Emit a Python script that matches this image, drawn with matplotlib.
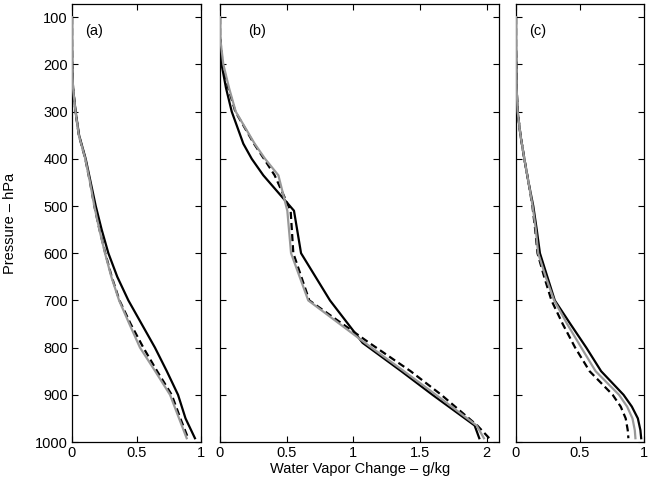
import matplotlib
matplotlib.use("Agg")
import matplotlib.pyplot as plt

plt.rcParams['font.family'] = ['Liberation Sans', 'DejaVu Sans']
plt.rcParams['font.size'] = 10

# ---- data ----
p_a = [100, 150, 200, 250, 300, 350, 400, 450, 500, 550, 600, 650, 700, 750, 800, 850, 900, 950, 992]
a_black = [0, 0, 0.001, 0.008, 0.028, 0.055, 0.106, 0.145, 0.184, 0.23, 0.282, 0.351, 0.437, 0.54, 0.643, 0.735, 0.822, 0.88, 0.953]
a_gray = [0, 0, 0.001, 0.008, 0.027, 0.053, 0.103, 0.14, 0.173, 0.212, 0.256, 0.305, 0.365, 0.445, 0.527, 0.645, 0.76, 0.83, 0.889]
a_dash = [0, 0, 0.001, 0.008, 0.027, 0.053, 0.103, 0.14, 0.173, 0.213, 0.258, 0.308, 0.368, 0.455, 0.553, 0.66, 0.773, 0.84, 0.90]

p_b = [100, 140, 200, 250, 300, 368, 400, 435, 510, 600, 700, 790, 850, 900, 965, 992]
b_black = [0, 0, 0.012, 0.045, 0.088, 0.175, 0.238, 0.325, 0.555, 0.608, 0.825, 1.07, 1.36, 1.594, 1.91, 1.945]
b_gray = [0, 0, 0.025, 0.068, 0.118, 0.26, 0.338, 0.438, 0.505, 0.533, 0.662, 1.088, 1.38, 1.62, 1.925, 1.98]
b_dash = [0, 0, 0.02, 0.062, 0.115, 0.255, 0.33, 0.41, 0.53, 0.55, 0.67, 1.12, 1.43, 1.66, 1.93, 2.02]

p_c = [100, 160, 200, 250, 300, 350, 400, 450, 500, 550, 600, 650, 700, 750, 800, 850, 900, 925, 950, 975, 992]
c_black = [0, 0, 0.002, 0.005, 0.013, 0.035, 0.065, 0.098, 0.135, 0.162, 0.187, 0.245, 0.303, 0.425, 0.549, 0.665, 0.84, 0.905, 0.952, 0.972, 0.978]
c_gray = [0, 0, 0.002, 0.005, 0.013, 0.035, 0.065, 0.098, 0.13, 0.155, 0.173, 0.232, 0.298, 0.4, 0.51, 0.622, 0.805, 0.868, 0.91, 0.928, 0.933]
c_dash = [0, 0, 0.002, 0.005, 0.013, 0.035, 0.065, 0.098, 0.128, 0.15, 0.168, 0.22, 0.277, 0.365, 0.462, 0.575, 0.755, 0.818, 0.857, 0.873, 0.878]

yticks = [100, 200, 300, 400, 500, 600, 700, 800, 900, 1000]
xt_small = [0, 0.5, 1]
xt_small_lab = ['0', '0.5', '1']
xt_big = [0, 0.5, 1, 1.5, 2]
xt_big_lab = ['0', '0.5', '1', '1.5', '2']

W, H = 649, 488
fig = plt.figure(figsize=(W / 100, H / 100), dpi=100)

def box(l, r, t=4, b=442):
    return [l / W, 1 - b / H, (r - l) / W, (b - t) / H]

axes_specs = [
    (box(72, 201), p_a, a_black, a_gray, a_dash, (0, 1), xt_small, xt_small_lab, '(a)', True),
    (box(220, 499), p_b, b_black, b_gray, b_dash, (0, 2.093), xt_big, xt_big_lab, '(b)', False),
    (box(516, 644), p_c, c_black, c_gray, c_dash, (0, 1), xt_small, xt_small_lab, '(c)', False),
]

gray = '#999999'
for rect, p, blk, gr, da, xl, xt, xtl, lab, ylab in axes_specs:
    ax = fig.add_axes(rect)
    ax.plot(blk, p, color='black', lw=1.6, zorder=3)
    ax.plot(da, p, color='black', lw=1.6, ls=(0, (3.2, 1.8)), zorder=2)
    ax.plot(gr, p, color=gray, lw=1.6, zorder=4)
    ax.set_xlim(*xl)
    ax.set_ylim(1000, 72)
    ax.set_yticks(yticks)
    if ylab:
        ax.set_yticklabels([str(v) for v in yticks])
    else:
        ax.set_yticklabels([])
    ax.set_xticks(xt)
    ax.set_xticklabels(xtl)
    ax.tick_params(direction='in', top=True, right=True, length=4, width=0.8,
                   labelsize=10.5, pad=3, color='black')
    for s in ax.spines.values():
        s.set_linewidth(0.9)
    ax.text(0.1, 0.938, lab, transform=ax.transAxes, fontsize=10.5,
            ha='left', va='center')

fig.text(10 / W, 1 - 223 / H, 'Pressure \u2013 hPa', rotation=90,
         ha='center', va='center', fontsize=10.5)
fig.text(360 / W, 1 - 469 / H, 'Water Vapor Change \u2013 g/kg',
         ha='center', va='center', fontsize=10.5)

fig.savefig('out.png', dpi=100)
